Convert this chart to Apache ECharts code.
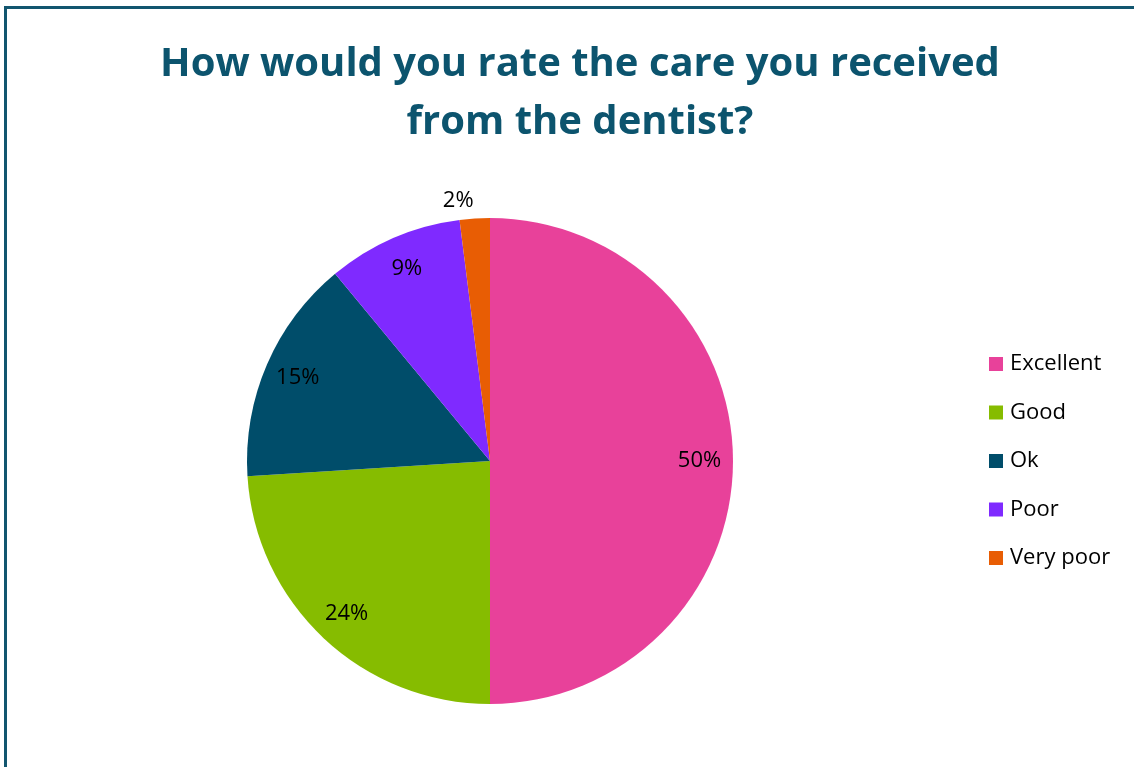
<!DOCTYPE html>
<html>
<head>
<meta charset="utf-8">
<script src="https://cdn.jsdelivr.net/npm/echarts@6/dist/echarts.min.js"></script>
<style>
  html, body { margin: 0; padding: 0; background: #fff; overflow: hidden; }
  #main { width: 1134px; height: 767px; }
  #frame {
    position: absolute; left: 4px; top: 6px; width: 1200px; height: 800px;
    border: 3px solid #12566f; pointer-events: none;
  }
</style>
</head>
<body>
<div id="main"></div>
<div id="frame"></div>
<script>
// chart data
var categories = ['Excellent', 'Good', 'Ok', 'Poor', 'Very poor'];
var values = [50, 24, 15, 9, 2];
var colors = ['#E8419A', '#86BC00', '#004D6A', '#7F2AFF', '#E85D04'];

var chart = echarts.init(document.getElementById('main'), null, { renderer: 'canvas' });

var pieData = categories.map(function (name, i) {
  return { name: name, value: values[i], itemStyle: { color: colors[i] } };
});

// a second transparent ring only to place labels near the rim like the original
var labelData = categories.map(function (name, i) {
  var item = { name: name, value: values[i] };
  if (values[i] < 5) {
    item.label = { position: 'outside', distanceToLabelLine: 0 };
    item.labelLine = { show: false, length: 18, length2: 0 };
  }
  return item;
});

var option = {
  backgroundColor: '#ffffff',
  animation: false,
  title: {
    text: 'How would you rate the care you received\nfrom the dentist?',
    left: 575,
    top: 31,
    textAlign: 'center',
    textStyle: {
      fontFamily: 'Open Sans',
      fontWeight: 'bold',
      fontSize: 40,
      lineHeight: 58,
      color: '#0C546E'
    }
  },
  legend: {
    orient: 'vertical',
    left: 989,
    top: 352,
    padding: 0,
    itemWidth: 14,
    itemHeight: 14,
    itemGap: 24.5,
    icon: 'rect',
    data: categories,
    textStyle: {
      fontFamily: 'Open Sans',
      fontSize: 22,
      lineHeight: 24,
      padding: [0, 0, 0, 2],
      color: '#000'
    }
  },
  series: [
    {
      type: 'pie',
      center: [490, 461],
      radius: [0, 243],
      startAngle: 90,
      clockwise: true,
      label: { show: false },
      labelLine: { show: false },
      itemStyle: { borderWidth: 0 },
      emphasis: { disabled: true },
      data: pieData
    },
    {
      type: 'pie',
      center: [490, 461],
      radius: [170, 243],
      startAngle: 90,
      clockwise: true,
      silent: true,
      legendHoverLink: false,
      itemStyle: { color: 'rgba(0,0,0,0)', borderWidth: 0 },
      label: {
        show: true,
        position: 'inside',
        formatter: '{d}%',
        fontFamily: 'Open Sans',
        fontSize: 22,
        color: '#000'
      },
      labelLine: { show: false },
      emphasis: { disabled: true },
      data: labelData
    }
  ]
};

chart.setOption(option);
</script>
</body>
</html>
